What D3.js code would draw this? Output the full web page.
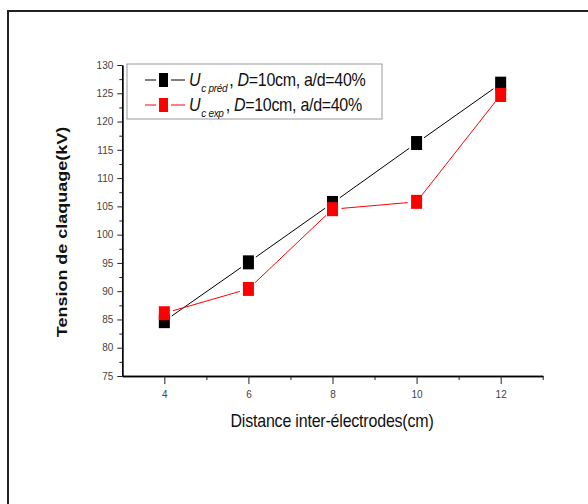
<!DOCTYPE html>
<html>
<head>
<meta charset="utf-8">
<script src="https://cdn.jsdelivr.net/npm/d3@7"></script>
<style>
  html, body { margin: 0; padding: 0; background: #fff; }
  svg { display: block; }
  text { font-family: "Liberation Sans", Arial, sans-serif; }
</style>
</head>
<body>
<svg id="chart" width="588" height="504"></svg>
<script>
// ---- data ----
const distances = [4, 6, 8, 10, 12];
const predValues = [84.7, 95.1, 105.6, 116.2, 126.7];
const expValues = [86.1, 90.4, 104.5, 105.8, 124.7];
const xTicks = [4, 6, 8, 10, 12];
const yTicks = [75, 80, 85, 90, 95, 100, 105, 110, 115, 120, 125, 130];
const seriesNames = ["c préd", "c exp"];
const seriesColors = ["#000000", "#ff0000"];

const svg = d3.select("#chart");

// outer frame
svg.append("rect").attr("x", 8).attr("y", 11).attr("width", 600).attr("height", 520)
  .attr("fill", "none").attr("stroke", "#222").attr("stroke-width", 2);

const x = d3.scaleLinear().domain([3, 13]).range([122.3, 542.7]);
const y = d3.scaleLinear().domain([75, 130]).range([376, 65]);

// axes
const xAxis = d3.axisBottom(x).tickValues(xTicks).tickSize(8).tickSizeOuter(0).tickFormat(d3.format("d"));
const xMinor = d3.axisBottom(x).tickValues([5, 7, 9, 11, 13]).tickSize(4).tickSizeOuter(0).tickFormat("");
const yAxis = d3.axisLeft(y).tickValues(yTicks).tickSize(5).tickSizeOuter(0).tickFormat(d3.format("d"));
const yMinor = d3.axisLeft(y).tickValues(d3.range(77.5, 130, 5)).tickSize(3).tickSizeOuter(0).tickFormat("");

function styleAxis(g) {
  g.select(".domain").attr("stroke", "#000").attr("stroke-width", 1.3);
  g.selectAll(".tick line").attr("stroke", "#222").attr("stroke-width", 1);
  g.selectAll(".tick text").attr("fill", "#444").style("font-size", "10px");
}

svg.append("g").attr("transform", "translate(0,376)").call(xMinor).call(styleAxis);
svg.append("g").attr("transform", "translate(0,376)").call(xAxis).call(styleAxis)
  .selectAll(".tick text").attr("dy", "1.1em");
svg.append("g").attr("transform", "translate(122.3,0)").call(yMinor).call(styleAxis);
svg.append("g").attr("transform", "translate(122.3,0)").call(yAxis).call(styleAxis)
  .selectAll(".tick text").attr("x", -9);

// axis titles
svg.append("text").attr("transform", "translate(332,427) scale(1,1.15)")
  .attr("text-anchor", "middle").style("font-size", "16px").attr("fill", "#111")
  .style("letter-spacing", "-0.2px")
  .text("Distance inter-électrodes(cm)");
svg.append("text").attr("transform", "translate(67,232) scale(1,1.2) rotate(-90)")
  .attr("text-anchor", "middle").style("font-size", "15px").style("font-weight", "bold").attr("fill", "#111")
  .text("Tension de claquage(kV)");

// series
const series = [predValues, expValues];
const mw = 11, mh = 14, gap = 9;
series.forEach((vals, si) => {
  const pts = distances.map((d, i) => [x(d), y(vals[i])]);
  const g = svg.append("g");
  for (let i = 0; i < pts.length - 1; i++) {
    const [x1, y1] = pts[i], [x2, y2] = pts[i + 1];
    const len = Math.hypot(x2 - x1, y2 - y1);
    const ux = (x2 - x1) / len, uy = (y2 - y1) / len;
    g.append("line")
      .attr("x1", x1 + ux * gap).attr("y1", y1 + uy * gap)
      .attr("x2", x2 - ux * gap).attr("y2", y2 - uy * gap)
      .attr("stroke", seriesColors[si]).attr("stroke-width", 1);
  }
  g.selectAll("rect.m").data(pts).enter().append("rect")
    .attr("x", p => p[0] - mw / 2).attr("y", p => p[1] - mh / 2)
    .attr("width", mw).attr("height", mh).attr("fill", seriesColors[si]);
});

// legend
const lg = svg.append("g");
lg.append("rect").attr("x", 127).attr("y", 64).attr("width", 255).attr("height", 55)
  .attr("fill", "#fff").attr("stroke", "#999").attr("stroke-width", 1);
[80, 105].forEach((cy, i) => {
  lg.append("line").attr("x1", 145).attr("x2", 156).attr("y1", cy).attr("y2", cy)
    .attr("stroke", seriesColors[i]).attr("stroke-width", 1);
  lg.append("line").attr("x1", 171).attr("x2", 185).attr("y1", cy).attr("y2", cy)
    .attr("stroke", seriesColors[i]).attr("stroke-width", 1);
  lg.append("rect").attr("x", 159).attr("y", cy - 7).attr("width", 9).attr("height", 14)
    .attr("fill", seriesColors[i]);
  const t = lg.append("text").attr("transform", `translate(189,${cy + 6}) scale(1,1.15)`)
    .style("font-size", "16px").attr("fill", "#111").style("letter-spacing", "-0.3px");
  t.append("tspan").style("font-style", "italic").text("U");
  t.append("tspan").style("font-style", "italic").style("font-size", "10px").attr("dy", 5)
    .attr("dx", 1).text(seriesNames[i]);
  t.append("tspan").attr("dy", -5).attr("dx", 2).text(", ");
  t.append("tspan").style("font-style", "italic").text("D");
  t.append("tspan").text("=10cm, a/d=40%");
});
</script>
</body>
</html>
